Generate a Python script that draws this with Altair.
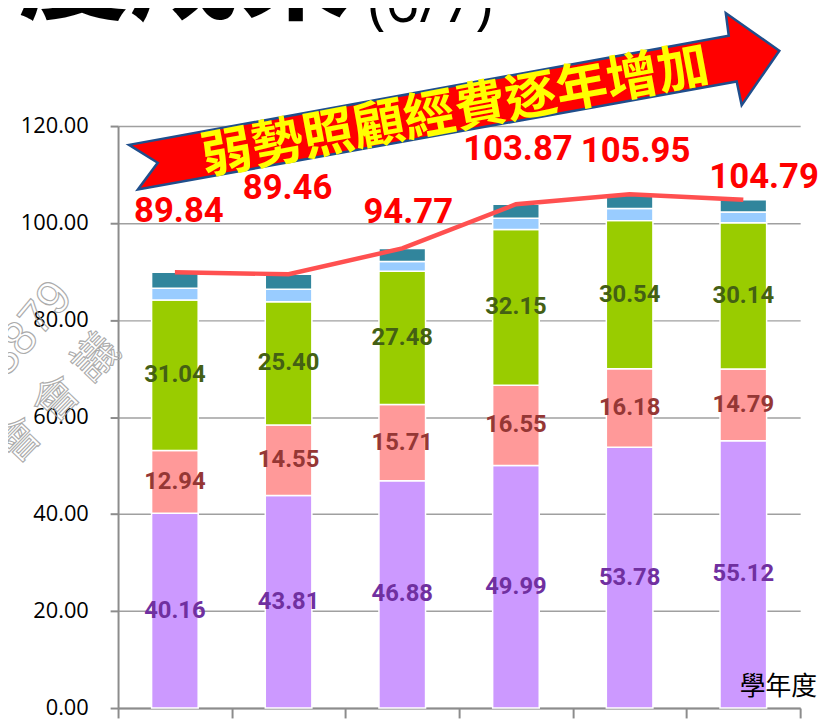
import altair as alt
import pandas as pd

# ---------------- data ----------------
years = ["98", "99", "100", "101", "102", "103"]
series_names = ["類別一", "類別二", "類別三", "類別四", "類別五"]
purple = [40.16, 43.81, 46.88, 49.99, 53.78, 55.12]
pink = [12.94, 14.55, 15.71, 16.55, 16.18, 14.79]
green = [31.04, 25.40, 27.48, 32.15, 30.54, 30.14]
lightblue = [2.40, 2.60, 2.00, 2.30, 2.50, 2.24]
teal = [3.30, 3.10, 2.70, 2.88, 2.95, 2.50]
totals = [89.84, 89.46, 94.77, 103.87, 105.95, 104.79]
y_ticks = [0, 20, 40, 60, 80, 100, 120]

# ---------------- styles / layout ----------------
bar_colors = ["#CC99FF", "#FF9999", "#99CC00", "#99CCFF", "#31859C"]
label_colors = ["#7030A0", "#953735", "#446014"]
total_label_offsets = [(4, -62), (-1, -87), (6, -37), (2, -56), (6, -43), (21, -23)]
num_font = "Roboto"

series_vals = [purple, pink, green, lightblue, teal]
rows = []
for i, yr in enumerate(years):
    cum = 0.0
    for k, vals in enumerate(series_vals):
        v = vals[i]
        rows.append(dict(year=yr, series=series_names[k], order=k, value=v,
                         y0=cum, y1=cum + v, mid=cum + v / 2))
        cum += v
df = pd.DataFrame(rows)
df_lab = df[df["order"] < 3]
df_tot = pd.DataFrame({"year": years, "total": totals})

xenc = alt.X("year:N", sort=years,
             scale=alt.Scale(paddingInner=0, paddingOuter=0),
             axis=alt.Axis(labels=False, tickBand="extent", tickSize=10,
                           tickColor="#8C8C8C", tickWidth=2,
                           domainColor="#8C8C8C", domainWidth=2,
                           grid=False, title=None))
yscale = alt.Scale(domain=[0, 120], nice=False)
yaxis = alt.Axis(values=y_ticks, format=".2f", labelFont="Open Sans",
                 labelFontSize=22, labelColor="#000000", labelPadding=22,
                 tickSize=8, tickColor="#8C8C8C", tickWidth=2,
                 domainColor="#8C8C8C", domainWidth=2,
                 grid=True, gridColor="#A0A0A0", gridWidth=1.5, title=None)

bars = alt.Chart(df).mark_bar(size=47, stroke="white", strokeWidth=1.5).encode(
    x=xenc,
    y=alt.Y("y0:Q", scale=yscale, axis=yaxis),
    y2="y1:Q",
    color=alt.Color("series:N", scale=alt.Scale(domain=series_names, range=bar_colors), legend=None),
)

seg_labels = alt.Chart(df_lab).mark_text(font=num_font, fontWeight="bold", fontSize=24,
                                         baseline="middle").encode(
    x=alt.X("year:N", sort=years),
    y=alt.Y("mid:Q"),
    text=alt.Text("value:Q", format=".2f"),
    color=alt.Color("series:N", scale=alt.Scale(domain=series_names[:3], range=label_colors), legend=None),
)

line = alt.Chart(df_tot).mark_line(color="#FF5050", strokeWidth=4.5).encode(
    x=alt.X("year:N", sort=years),
    y=alt.Y("total:Q"),
)

total_layers = []
for i, (dx, dy) in enumerate(total_label_offsets):
    total_layers.append(
        alt.Chart(df_tot.iloc[[i]]).mark_text(font=num_font, fontWeight="bold", fontSize=35,
                                              color="#FF0000", dx=dx, dy=dy,
                                              baseline="middle").encode(
            x=alt.X("year:N", sort=years),
            y=alt.Y("total:Q"),
            text=alt.Text("total:Q", format=".2f"),
        )
    )

one = alt.Data(values=[{}])

arrow_path = ("M -0.82 0.11 L 0.6925 -0.165 L 0.685 -0.2225 L 0.82 -0.1275 "
              "L 0.725 0.01 L 0.7125 -0.05 L -0.7975 0.2225 L -0.7475 0.155 Z")
arrow = alt.Chart(one).mark_point(shape=arrow_path, size=640000, filled=True,
                                  fill="#FF0000", stroke="#1F4E8C", strokeWidth=2.5,
                                  opacity=1).encode(
    x=alt.value(339), y=alt.value(-25))

banner = alt.Chart(one).mark_text(text="弱勢照顧經費逐年增加", font="Noto Sans CJK TC",
                                  fontWeight="bold", fontSize=52, color="#FFFF00",
                                  angle=349.5, align="center", baseline="middle").encode(
    x=alt.value(340), y=alt.value(-14))

title_cjk = alt.Chart(one).mark_text(text="度成果", font="Noto Sans CJK TC", fontWeight="bold",
                                     fontSize=112, color="#000000", align="left",
                                     baseline="alphabetic").encode(
    x=alt.value(-101), y=alt.value(-116))
title_num = alt.Chart(one).mark_text(text="(6/7)", font="Open Sans", fontSize=60,
                                     color="#000000", align="left",
                                     baseline="alphabetic").encode(
    x=alt.value(252), y=alt.value(-105))

wm1 = alt.Chart(one).mark_text(text="3879", font="Liberation Sans", fontSize=48,
                               fillOpacity=0, stroke="#ABABAB", strokeWidth=1.1,
                               angle=310, align="right", baseline="middle").encode(
    x=alt.value(-55), y=alt.value(164))
wm_chars = []
for ch, px, py in [("會", -100, 318), ("會", -61, 276), ("議", -22, 234)]:
    wm_chars.append(alt.Chart(one).mark_text(text=ch, font="Noto Sans CJK TC", fontSize=45,
                                             fillOpacity=0, stroke="#ABABAB",
                                             strokeWidth=1.1, angle=314, align="center",
                                             baseline="middle").encode(
        x=alt.value(px), y=alt.value(py)))

xtitle = alt.Chart(one).mark_text(text="學年度", font="Noto Sans CJK TC", fontSize=26,
                                  color="#000000", align="center", baseline="middle").encode(
    x=alt.value(666), y=alt.value(566))

chart = alt.layer(
    *wm_chars, wm1, bars, seg_labels, line, *total_layers, arrow, banner,
    title_cjk, title_num, xtitle
).resolve_scale(color="independent").properties(
    width=688, height=587,
    autosize=alt.AutoSizeParams(type="none"),
    padding={"left": 111, "top": 116, "right": 18, "bottom": 10},
).configure_view(stroke="transparent")

chart.save("out.html", embed_options={"renderer": "svg", "actions": False})
